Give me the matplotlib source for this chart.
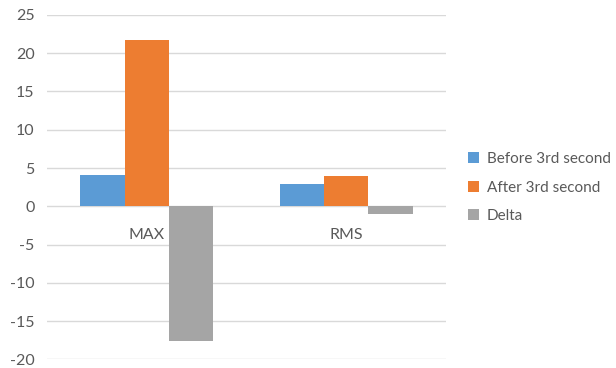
import matplotlib
matplotlib.use("Agg")
import matplotlib.pyplot as plt
from matplotlib.patches import Patch
import numpy as np

categories = ["MAX", "RMS"]
series_names = ["Before 3rd second", "After 3rd second", "Delta"]
before = [4.05, 2.93]
after = [21.7, 3.92]
delta = [-17.65, -0.97]
yticks = [-20, -15, -10, -5, 0, 5, 10, 15, 20, 25]

colors = ["#5B9BD5", "#ED7D31", "#A5A5A5"]
text_color = "#595959"
font = "Lato"

fig = plt.figure(figsize=(6.16, 3.68), dpi=100)
ax = fig.add_axes([0.0763, 0.0236, 0.6477, 0.9357])

x = np.arange(len(categories))
width = 0.2217
for k, vals in enumerate([before, after, delta]):
    ax.bar(x + (k - 1) * width, vals, width, color=colors[k], zorder=3)

ax.set_xlim(-0.5, len(categories) - 0.5)
ax.set_ylim(yticks[0], yticks[-1])
ax.set_yticks(yticks)
ax.set_yticklabels([str(t) for t in yticks], fontsize=11.5, color=text_color, family=font)
ax.yaxis.grid(True, color="#D9D9D9", linewidth=1, zorder=0)
ax.tick_params(axis="y", length=0, pad=9)
ax.set_xticks([])
for s in ax.spines.values():
    s.set_visible(False)

for i, c in enumerate(categories):
    ax.annotate(c, (i, 0), xytext=(0, -21), textcoords="offset points",
                ha="center", va="center", fontsize=11.5, color=text_color, family=font)

handles = [Patch(facecolor=c, edgecolor="none") for c in colors]
fig.legend(handles, series_names, loc="center left", bbox_to_anchor=(0.748, 0.49),
           frameon=False, handlelength=0.7, handleheight=0.7,
           handletextpad=0.5, labelspacing=0.95, borderpad=0,
           prop={"family": font, "size": 11}, labelcolor=text_color)

fig.savefig("out.png", dpi=100)
